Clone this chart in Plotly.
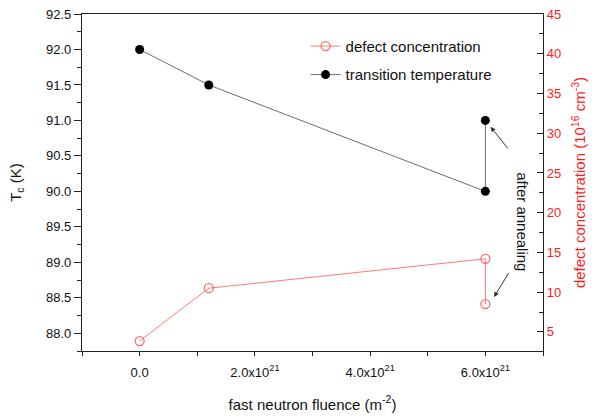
import plotly.graph_objects as go

# Fast neutron fluence (m^-2) for each sample; the last point is after annealing
fluence = [0.0, 1.2e21, 6.0e21, 6.0e21]
# Critical temperature Tc (K)
tc_values = [92.0, 91.5, 90.0, 91.0]
# Defect concentration (10^16 cm^-3)
defect_values = [3.85, 10.5, 14.2, 8.5]

x_tick_vals = [0.0, 2.0e21, 4.0e21, 6.0e21]
x_tick_text = ["0.0", "2.0x10<sup>21</sup>", "4.0x10<sup>21</sup>", "6.0x10<sup>21</sup>"]

FONT = "Liberation Sans, Arial, sans-serif"
AXIS_COLOR = "#222222"

fig = go.Figure()

fig.add_trace(go.Scatter(
    x=fluence, y=defect_values, yaxis="y2",
    mode="lines+markers", name="defect concentration", legendgroup="defect",
    line=dict(color="#ff7a7a", width=1),
    marker=dict(symbol="circle-open", size=9, color="#ff6b6b", line=dict(width=1.3)),
))
fig.add_trace(go.Scatter(
    x=fluence, y=tc_values, yaxis="y",
    mode="lines+markers", name="transition temperature", legendgroup="tc",
    line=dict(color="#6e6e6e", width=1),
    marker=dict(symbol="circle", size=9, color="#000000"),
))

# Arrows pointing at the annealed points
arrow_style = dict(showarrow=True, arrowhead=2, arrowsize=1, arrowwidth=1,
                   arrowcolor="#333333", text="", xref="x", yref="y",
                   axref="x", ayref="y")
fig.add_annotation(x=6.09e21, y=90.91, ax=6.41e21, ay=90.585, **arrow_style)
fig.add_annotation(x=6.15e21, y=88.51, ax=6.42e21, ay=88.87, **arrow_style)
fig.add_annotation(x=6.63e21, y=89.57, xref="x", yref="y", text="after annealing",
                   showarrow=False, textangle=90,
                   font=dict(family=FONT, size=15, color="#111111"))

fig.update_layout(
    width=598, height=419,
    margin=dict(l=82, r=55, t=14, b=68),
    paper_bgcolor="white", plot_bgcolor="white",
    font=dict(family=FONT, size=13, color="#111111"),
    showlegend=True,
    legend=dict(x=0.485, y=0.953, xanchor="left", yanchor="top",
                traceorder="grouped", tracegroupgap=6,
                bgcolor="rgba(0,0,0,0)", font=dict(family=FONT, size=15, color="#111111")),
    xaxis=dict(
        range=[-1.0e21, 7.0e21], automargin=False,
        tickvals=x_tick_vals, ticktext=x_tick_text,
        ticks="outside", ticklen=4, tickwidth=1, tickcolor=AXIS_COLOR,
        minor=dict(dtick=1.0e21, tick0=0, ticks="outside", ticklen=4, tickcolor=AXIS_COLOR),
        showline=True, linecolor=AXIS_COLOR, linewidth=1.3, mirror=True,
        showgrid=False, zeroline=False,
        tickfont=dict(size=13), ticklabelstandoff=5,
        title=dict(text="fast neutron fluence (m<sup>-2</sup>)", font=dict(size=15), standoff=20),
    ),
    yaxis=dict(
        range=[87.75, 92.5], dtick=0.5, tick0=0, tickformat=".1f", automargin=False,
        ticks="outside", ticklen=7, tickwidth=1, tickcolor=AXIS_COLOR,
        minor=dict(dtick=0.25, ticks="outside", ticklen=4, tickcolor=AXIS_COLOR),
        showline=True, linecolor=AXIS_COLOR, linewidth=1.3,
        showgrid=False, zeroline=False,
        tickfont=dict(size=13),
        title=dict(text="T<sub>c</sub> (K)", font=dict(size=15), standoff=20),
    ),
    yaxis2=dict(
        range=[2.6, 45], dtick=5, tick0=0, overlaying="y", side="right", automargin=False,
        ticks="inside", ticklen=6, tickwidth=1, tickcolor=AXIS_COLOR,
        minor=dict(dtick=2.5, ticks="inside", ticklen=4, tickcolor=AXIS_COLOR),
        showline=True, linecolor=AXIS_COLOR, linewidth=1.3,
        showgrid=False, zeroline=False,
        tickfont=dict(size=13, color="#ff1a1a"),
        title=dict(text="defect concentration (10<sup>16</sup> cm<sup>-3</sup>)",
                   font=dict(size=15, color="#ff1a1a"), standoff=14),
    ),
)

fig.write_html("out.html")
